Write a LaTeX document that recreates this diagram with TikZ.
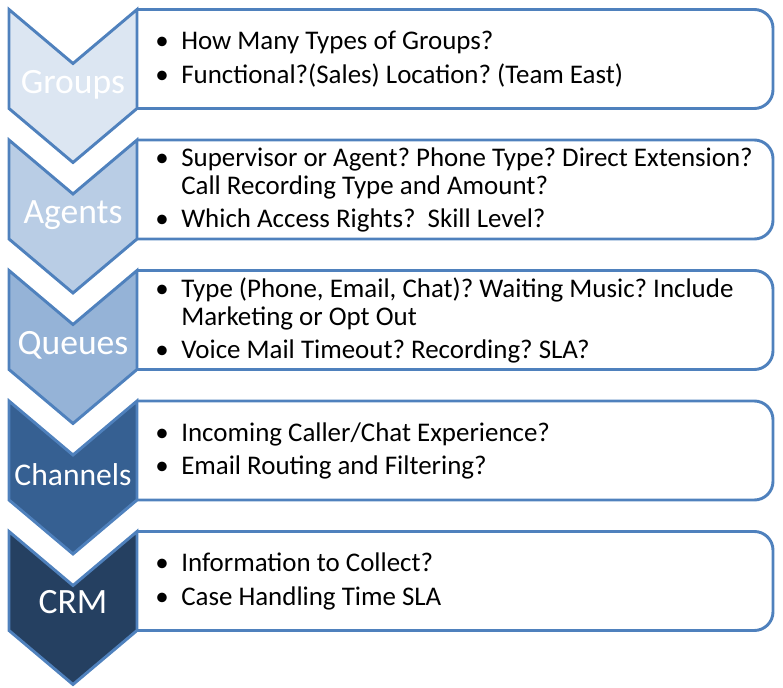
\documentclass[tikz,border=0pt]{standalone}
\usepackage{fontspec}
\setmainfont{Carlito}
\usepackage{tikz}
\definecolor{edge}{RGB}{79,129,189}
\definecolor{grp}{RGB}{220,230,242}
\definecolor{agt}{RGB}{185,205,229}
\definecolor{que}{RGB}{149,179,215}
\definecolor{chn}{RGB}{54,96,146}
\definecolor{crm}{RGB}{37,64,97}
\newcommand{\bul}{\makebox[19.5pt][l]{\textbullet}}
\newcommand{\cont}{\hspace*{19.5pt}}
\frenchspacing

\begin{document}
\begin{tikzpicture}[x=0.75pt, y=-0.75pt,
    chev/.style={draw=edge, line width=2.2pt},
    box/.style={draw=edge, line width=2.2pt},
    lbl/.style={text=white, anchor=base, inner sep=0pt, font=\fontsize{26.7}{30}\selectfont},
    item/.style={anchor=west, inner sep=0pt, align=left, font=\fontsize{20.2}{21}\selectfont}]
    \useasboundingbox (0,0) rectangle (783,688);

    % Boxes and chevrons, top to bottom
    \foreach \top/\col in {9.5/grp, 140/agt, 270.5/que, 401/chn, 531.5/crm} {
        \draw[box] (137,\top) [rounded corners=14] -- (773,\top) -- (773,\top+99) -- (137,\top+99);
        \draw[chev, fill=\col] (9,\top) -- (73,\top+54) -- (137,\top) -- (137,\top+99)
            -- (73,\top+153) -- (9,\top+99) -- cycle;
    }

    % Step labels
    \node[lbl] (groups) at (73,93.5) {Groups};
    \node[lbl] (agents) at (73,224) {Agents};
    \node[lbl] (queues) at (73,354.5) {Queues};
    \node[lbl, font=\fontsize{23.7}{26}\selectfont] (channels) at (73,485) {Channels};
    \node[lbl] (crm) at (73,613) {CRM};

    % Questions per step
    \node[item] (groupsq) at (155,59) {\bul How Many Types of Groups?\\[4pt]
        \bul Functional?(Sales) Location? (Team East)};
    \node[item] (agentsq) at (155,190) {\bul Supervisor or Agent? Phone Type? Direct Extension?\\
        \cont Call Recording Type and Amount?\\[4pt]
        \bul Which Access Rights?\ \ Skill Level?};
    \node[item] (queuesq) at (155,320.5) {\bul Type (Phone, Email, Chat)? Waiting Music? Include\\
        \cont Marketing or Opt Out\\[4pt]
        \bul Voice Mail Timeout? Recording? SLA?};
    \node[item] (channelsq) at (155,451) {\bul Incoming Caller/Chat Experience?\\[4pt]
        \bul Email Routing and Filtering?};
    \node[item] (crmq) at (155,581.5) {\bul Information to Collect?\\[4pt]
        \bul Case Handling Time SLA};
\end{tikzpicture}
\end{document}
